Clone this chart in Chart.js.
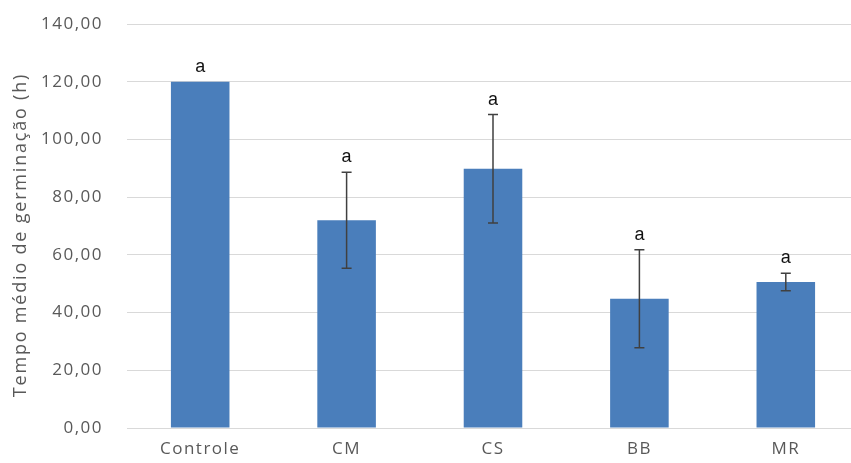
<!DOCTYPE html>
<html>
<head>
<meta charset="utf-8">
<script src="https://cdn.jsdelivr.net/npm/chart.js@4.4.1/dist/chart.umd.min.js"></script>
<style>
  html, body { margin: 0; padding: 0; background: #ffffff; overflow: hidden; }
  #wrap { width: 851px; height: 463px; overflow: hidden; }
  canvas { display: block; }
</style>
</head>
<body>
<div id="wrap"><canvas id="chart" width="860" height="463"></canvas></div>
<script>
// Mean germination time per treatment (hours), its error, and the significance letter
const categories = ['Controle', 'CM', 'CS', 'BB', 'MR'];
const means = [120.0, 72.0, 89.8, 44.8, 50.6];
const errors = [0.0, 16.6, 18.8, 17.0, 3.0];
const letters = ['a', 'a', 'a', 'a', 'a'];
const yTicks = [0, 20, 40, 60, 80, 100, 120, 140];

const axisColor = '#595959';
const gridColor = '#d9d9d9';
const barColor = '#4a7ebb';
const axisFont = '"Open Sans", sans-serif';

// Wrap a scale's drawing method so its text gets extra letter spacing
function spaced(scale, method, spacing, shiftY) {
  const key = '_spaced_' + method;
  if (scale[key]) return;
  const orig = scale[method].bind(scale);
  scale[method] = function (area) {
    const ctx = this.ctx;
    ctx.save();
    ctx.letterSpacing = spacing;
    if (shiftY) ctx.translate(0, shiftY);
    orig(area);
    ctx.restore();
  };
  scale[key] = true;
}

// Error bars with caps, plus the letter above each bar
const errorBarsPlugin = {
  id: 'errorBars',
  afterDatasetsDraw(chart) {
    const ctx = chart.ctx;
    const x = chart.scales.x;
    const y = chart.scales.y;
    ctx.save();
    means.forEach((m, i) => {
      const cx = x.getPixelForValue(i);
      const top = y.getPixelForValue(m + errors[i]);
      const bot = y.getPixelForValue(m - errors[i]);
      if (errors[i] > 0) {
        ctx.strokeStyle = '#404040';
        ctx.lineWidth = 1.5;
        ctx.beginPath();
        ctx.moveTo(cx, top); ctx.lineTo(cx, bot);
        ctx.moveTo(cx - 5, top); ctx.lineTo(cx + 5, top);
        ctx.moveTo(cx - 5, bot); ctx.lineTo(cx + 5, bot);
        ctx.stroke();
      }
      ctx.fillStyle = '#111111';
      ctx.font = '18px "Liberation Sans", Arial, sans-serif';
      ctx.textAlign = 'center';
      ctx.textBaseline = 'middle';
      ctx.fillText(letters[i], cx, top - 15);
    });
    ctx.restore();
  }
};

new Chart(document.getElementById('chart'), {
  type: 'bar',
  data: {
    labels: categories,
    datasets: [{
      data: means,
      backgroundColor: barColor,
      borderWidth: 0,
      barPercentage: 0.4,
      categoryPercentage: 1.0
    }]
  },
  options: {
    responsive: false,
    animation: false,
    layout: { padding: { top: 24, right: 1, left: 0, bottom: 0 } },
    plugins: { legend: { display: false }, tooltip: { enabled: false } },
    scales: {
      x: {
        grid: { display: false, drawTicks: false },
        border: { display: true, color: gridColor, width: 1 },
        ticks: { color: axisColor, padding: 11, font: { family: axisFont, size: 17 } },
        afterFit(scale) {
          scale.height = 35;
          scale.paddingLeft = 0;
          scale.paddingRight = 0;
          spaced(scale, 'drawLabels', '1.5px');
        }
      },
      y: {
        min: 0,
        max: 140,
        afterBuildTicks(scale) { scale.ticks = yTicks.map(v => ({ value: v })); },
        grid: { color: gridColor, lineWidth: 1, drawTicks: false },
        border: { display: false },
        ticks: {
          color: axisColor,
          padding: 24,
          font: { family: axisFont, size: 17 },
          callback: v => v.toFixed(2).replace('.', ',')
        },
        title: {
          display: true,
          text: 'Tempo médio de germinação (h)',
          color: axisColor,
          font: { family: axisFont, size: 18 },
          padding: { top: 10, bottom: 0 }
        },
        afterFit(scale) {
          scale.width = 127;
          scale.paddingTop = 0;
          scale.paddingBottom = 0;
          spaced(scale, 'drawLabels', '1.5px');
          spaced(scale, 'drawTitle', '1.8px', 9);
        }
      }
    }
  },
  plugins: [errorBarsPlugin]
});
</script>
</body>
</html>
